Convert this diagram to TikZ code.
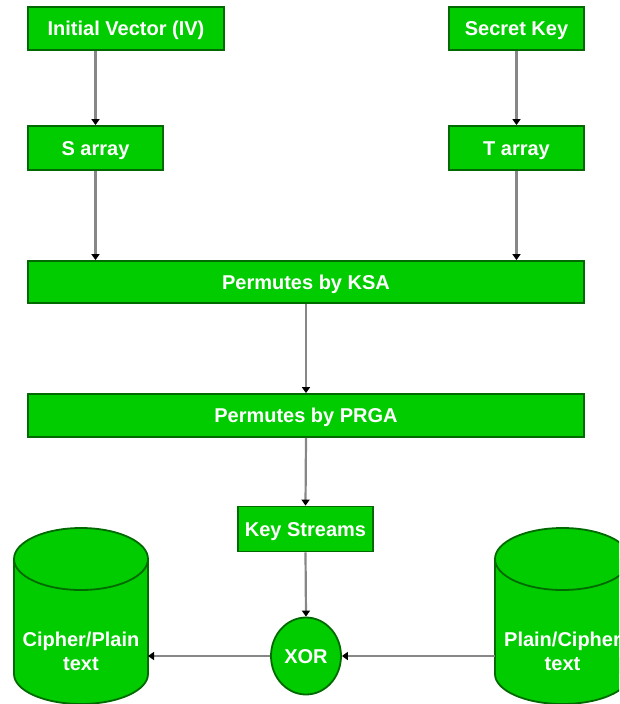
\documentclass[tikz,border=0pt]{standalone}
\usepackage{fontspec}
\setmainfont{Liberation Sans}
\usetikzlibrary{arrows.meta,shapes.geometric}
\definecolor{boxgreen}{RGB}{0,204,0}
\definecolor{edgegreen}{RGB}{0,105,0}
\definecolor{linegray}{RGB}{135,135,135}
\begin{document}
\begin{tikzpicture}[x=1pt,y=-1pt,
  box/.style={draw=edgegreen, fill=boxgreen, line width=1.8pt, text=white,
    font=\fontsize{20}{24}\selectfont\bfseries, inner sep=0pt,
    text height=14.5pt, text depth=0pt},
  cyltext/.style={text=white, font=\fontsize{20}{24}\selectfont\bfseries, align=center, inner sep=0pt},
  cylbody/.style={fill=boxgreen},
  cylline/.style={draw=edgegreen, line width=1.8pt},
  conn/.style={draw=linegray, line width=2.2pt, -{Triangle[length=6pt,width=8pt,color=black]}},
]
\useasboundingbox (0,0) rectangle (619,704);
\begin{scope}
\clip (0,0) rectangle (619,704);

% boxes
\node[box, minimum width=196pt, minimum height=43pt] (iv) at (126,28.5) {Initial Vector (IV)};
\node[box, minimum width=135pt, minimum height=43pt] (key) at (516.5,28.5) {Secret Key};
\node[box, minimum width=135pt, minimum height=44pt] (sarr) at (95.5,148) {S array};
\node[box, minimum width=135pt, minimum height=44pt] (tarr) at (516.5,148) {T array};
\node[box, minimum width=556pt, minimum height=42pt] (ksa) at (306,282) {Permutes by KSA};
\node[box, minimum width=556pt, minimum height=43pt] (prga) at (306,415.5) {Permutes by PRGA};
\node[box, minimum width=135pt, minimum height=45pt] (ks) at (305.5,529) {Key Streams};
\node[box, ellipse, minimum width=70pt, minimum height=77pt] (xor) at (306,656) {XOR};

% left cylinder
\fill[cylbody] (14,559) rectangle (148,674);
\fill[cylbody] (81,674) ellipse (67 and 30);
\draw[cylline] (14,559) -- (14,674) arc (180:0:67 and 30) -- (148,559);
\draw[cylline, fill=boxgreen] (81,559) ellipse (67 and 31);
\node[cyltext] (ltext) at (81,651) {Cipher/Plain\\text};
\coordinate (lcyl) at (148,656);

% right cylinder
\fill[cylbody] (495,559) rectangle (630,674);
\fill[cylbody] (562.5,674) ellipse (67.5 and 30);
\draw[cylline] (495,559) -- (495,674) arc (180:0:67.5 and 30) -- (630,559);
\draw[cylline, fill=boxgreen] (562.5,559) ellipse (67.5 and 31);
\node[cyltext] (rtext) at (562.5,651) {Plain/Cipher\\text};
\coordinate (rcyl) at (495,656);

% connectors
\draw[conn] (iv.south -| sarr.north) -- (sarr.north);
\draw[conn] (key.south) -- (tarr.north);
\draw[conn] (sarr.south) -- (sarr.south |- ksa.north);
\draw[conn] (tarr.south) -- (tarr.south |- ksa.north);
\draw[conn] (ksa.south) -- (prga.north);
\draw[conn] (prga.south) -- (ks.north);
\draw[conn] (ks.south) -- (xor.north);
\draw[conn] (rcyl) -- (xor.east);
\draw[conn] (xor.west) -- (lcyl);
\end{scope}
\end{tikzpicture}
\end{document}
